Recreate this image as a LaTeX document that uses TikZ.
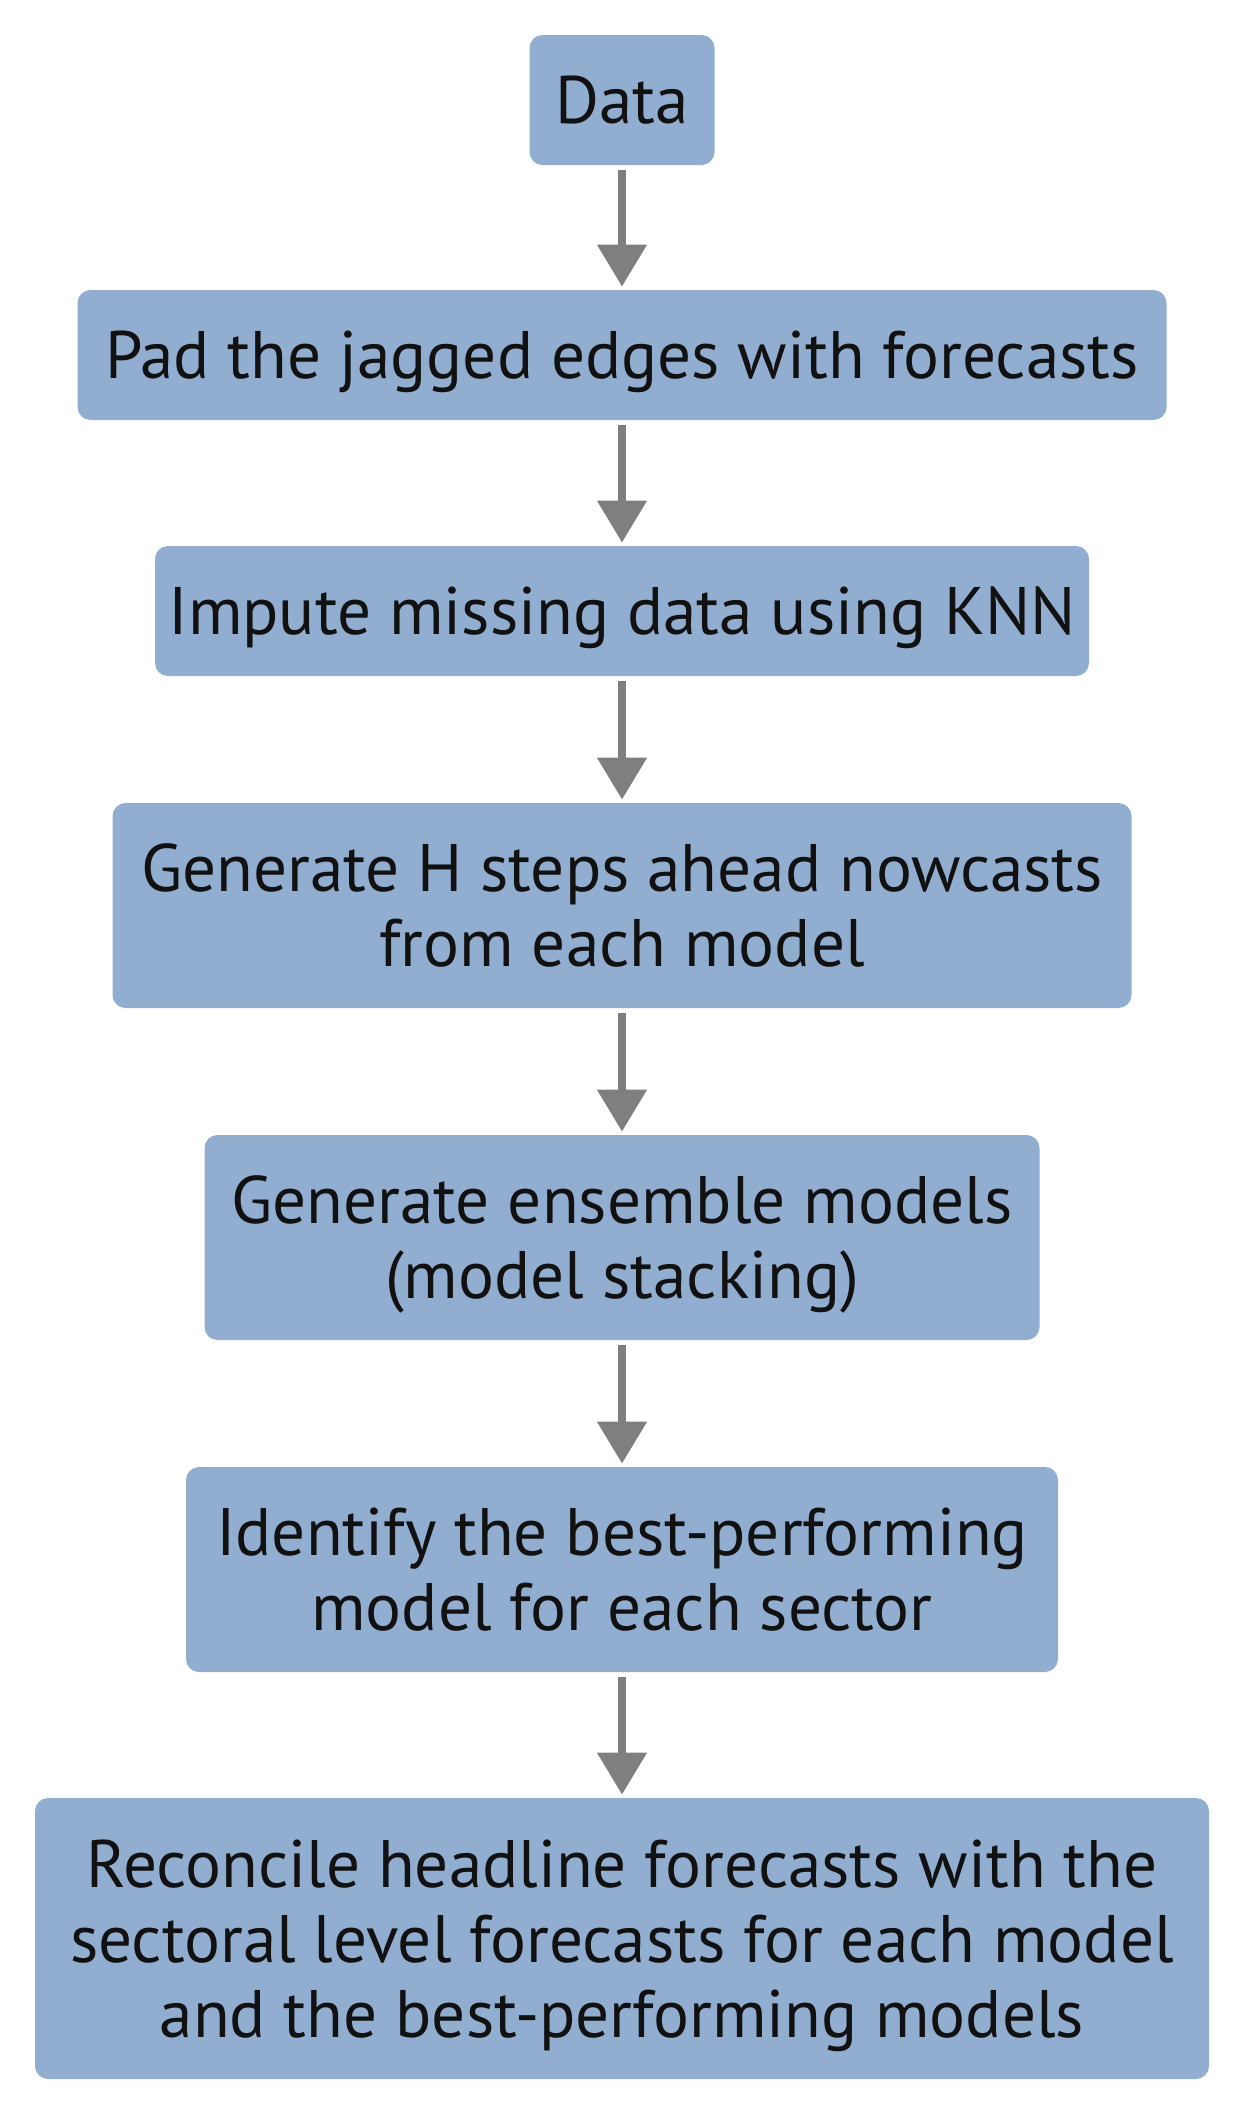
\documentclass[tikz,border=0pt]{standalone}
\usepackage{fontspec}
\setmainfont{PT Sans}
\usetikzlibrary{arrows.meta}
\definecolor{boxfill}{RGB}{145,174,209}
\definecolor{arrowgray}{RGB}{127,127,127}
\definecolor{txt}{RGB}{17,17,17}
\begin{document}
\begin{tikzpicture}[x=0.5pt,y=-0.5pt,
  stepbox/.style={fill=boxfill, rounded corners=6.5pt, inner sep=0pt, align=center,
    text=txt, text depth=0pt, font=\fontsize{33.6pt}{37.5pt}\selectfont},
  flow/.style={draw=arrowgray, line width=4pt,
    -{Triangle[length=21pt,width=24pt]}, shorten <=2.5pt, shorten >=1.5pt}]
\useasboundingbox (0,0) rectangle (1244,2116);
\node[stepbox, minimum width=92.5pt, minimum height=65pt] (data) at (622,100) {Data};
\node[stepbox, minimum width=544.5pt, minimum height=65pt] (pad) at (622,355) {Pad the jagged edges with forecasts};
\node[stepbox, minimum width=467pt, minimum height=65pt] (impute) at (622,611) {Impute missing data using KNN};
\node[stepbox, minimum width=509.5pt, minimum height=102.5pt] (genh) at (622,905.5) {Generate H steps ahead nowcasts\\from each model};
\node[stepbox, minimum width=417.5pt, minimum height=102.5pt] (ens) at (622,1237.5) {Generate ensemble models\\(model stacking)};
\node[stepbox, minimum width=436pt, minimum height=102.5pt] (ident) at (622,1569.5) {Identify the best-performing\\model for each sector};
\node[stepbox, minimum width=587pt, minimum height=140.5pt] (recon) at (622,1938.5) {Reconcile headline forecasts with the\\sectoral level forecasts for each model\\and the best-performing models};
\draw[flow] (data) -- (pad);
\draw[flow] (pad) -- (impute);
\draw[flow] (impute) -- (genh);
\draw[flow] (genh) -- (ens);
\draw[flow] (ens) -- (ident);
\draw[flow] (ident) -- (recon);
\end{tikzpicture}
\end{document}
